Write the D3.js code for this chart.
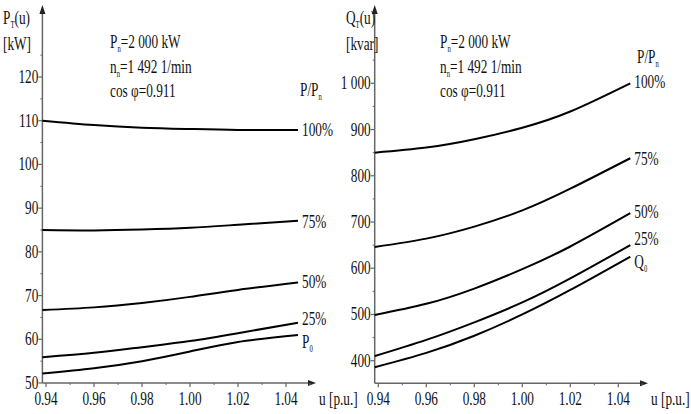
<!DOCTYPE html>
<html>
<head>
<meta charset="utf-8">
<script src="https://cdn.jsdelivr.net/npm/d3@7"></script>
<style>
  body { margin: 0; background: #fff; }
  text { font-family: "Liberation Serif", "Times New Roman", serif; fill: #111; }
</style>
</head>
<body>
<svg id="chart" width="691" height="414"></svg>
<script>
// voltage samples (p.u.)
const uValues = [0.9385, 0.96, 0.98, 1.00, 1.02, 1.045];
const xTicks = [0.94, 0.96, 0.98, 1.00, 1.02, 1.04];

// Active power losses P_T(u) [kW]
const pT100 = [110, 109, 108.4, 108.1, 107.9, 107.9];
const pT75 = [85, 84.9, 85.1, 85.5, 86.2, 87.1];
const pT50 = [66.7, 67.3, 68.3, 69.7, 71.3, 73.0];
const pT25 = [55.9, 56.9, 58.2, 59.6, 61.4, 63.8];
const pT0 = [52.2, 53.4, 55.0, 57.2, 59.4, 61.0];
const pTicks = [50, 60, 70, 80, 90, 100, 110, 120];

// Reactive power Q_T(u) [kvar]
const qT100 = [850, 861, 879, 904, 939, 1000];
const qT75 = [646, 664, 690, 725, 772, 838];
const qT50 = [499, 523, 556, 598, 647, 719];
const qT25 = [410, 445, 483, 526, 578, 650];
const qT0 = [386, 417, 454, 500, 553, 625];
const qTicks = [400, 500, 600, 700, 800, 900, 1000];
const qTickLabels = ["400", "500", "600", "700", "800", "900", "1 000"];

const curveLabels = ["100%", "75%", "50%", "25%"];

const svg = d3.select("#chart");
const SX = 0.7; // text is drawn narrow like the original

// writes text made of [string, isSubscript] parts
function write(g, x, y, parts, anchor, size) {
  size = size || 19;
  let t = g.append("text")
    .attr("transform", `translate(${x},${y}) scale(${SX},1)`)
    .attr("text-anchor", anchor || "start")
    .attr("font-family", "Liberation Serif")
    .style("font-size", size + "px");
  let down = false;
  parts.forEach(p => {
    let s = t.append("tspan").text(p[0]);
    if (p[1] && !down) { s.attr("dy", 4).style("font-size", (size * 0.5) + "px"); down = true; }
    else if (p[1]) { s.style("font-size", (size * 0.5) + "px"); }
    else if (down) { s.attr("dy", -4); down = false; }
  });
  return t;
}

function drawPanel(opt) {
  const g = svg.append("g");
  const x = d3.scaleLinear().domain([0.94, 1.04]).range(opt.xRange);
  const y = d3.scaleLinear().domain(opt.yDomain).range(opt.yRange);
  const x0 = x(uValues[0]);
  const yBase = opt.yBase;

  // axes
  g.append("line").attr("x1", x0).attr("x2", x0).attr("y1", yBase).attr("y2", 12)
    .attr("stroke", "#666").attr("stroke-width", 1.5);
  g.append("path").attr("d", `M${x0 - 3},${14} L${x0},${5} L${x0 + 3},${14} Z`).attr("fill", "#222");
  g.append("line").attr("x1", x0).attr("x2", opt.xEnd - 6).attr("y1", yBase).attr("y2", yBase)
    .attr("stroke", "#666").attr("stroke-width", 1.5);
  g.append("path").attr("d", `M${opt.xEnd - 8},${yBase - 3} L${opt.xEnd},${yBase} L${opt.xEnd - 8},${yBase + 3} Z`).attr("fill", "#222");

  // y ticks, major and minor
  const step = opt.yTicks[1] - opt.yTicks[0];
  opt.yTicks.forEach((v, i) => {
    g.append("line").attr("x1", x0 - 4).attr("x2", x0).attr("y1", y(v)).attr("y2", y(v))
      .attr("stroke", "#666").attr("stroke-width", 1.2);
    write(g, x0 - 4, y(v) + 6, [[opt.yLabels[i]]], "end");
    const m = v + step / 2;
    if (i < opt.yTicks.length - 1 || y(m) > 20)
      g.append("line").attr("x1", x0 - 2).attr("x2", x0).attr("y1", y(m)).attr("y2", y(m))
        .attr("stroke", "#666").attr("stroke-width", 1);
  });

  // x ticks
  xTicks.forEach(v => {
    g.append("line").attr("x1", x(v)).attr("x2", x(v)).attr("y1", yBase).attr("y2", yBase + 4)
      .attr("stroke", "#666").attr("stroke-width", 1.2);
    g.append("line").attr("x1", x(v + 0.01)).attr("x2", x(v + 0.01)).attr("y1", yBase).attr("y2", yBase + 2)
      .attr("stroke", "#666").attr("stroke-width", 1);
    write(g, x(v), yBase + 22, [[v.toFixed(2)]], "middle");
  });
  write(g, opt.xEnd + 3, yBase + 22, [["u [p.u.]"]], "start");

  // curves
  const line = d3.line().x((d, i) => x(uValues[i])).y(d => y(d)).curve(d3.curveNatural);
  opt.series.forEach(s => {
    g.append("path").attr("d", line(s)).attr("fill", "none")
      .attr("stroke", "#000").attr("stroke-width", 2);
  });

  // curve labels
  const xe = x(uValues[uValues.length - 1]);
  opt.labelY.forEach((ly, i) => {
    const parts = i < 4 ? [[curveLabels[i]]] : [[opt.zeroName], ["0", true]];
    write(g, xe + 4, ly, parts, "start");
  });
  write(g, opt.ppX, opt.ppY, [["P/P"], ["n", true]], "start");

  // axis title and machine data
  write(g, opt.titleX, 24, [[opt.titleName], ["T", true], ["(u)"]], "start");
  write(g, opt.titleX, 50, [[opt.unit]], "start");
  write(g, opt.noteX, 48, [["P"], ["n", true], ["=2 000 kW"]], "start");
  write(g, opt.noteX, 73, [["n"], ["n", true], ["=1 492 1/min"]], "start");
  write(g, opt.noteX, 97, [["cos \u03c6=0.911"]], "start");
}

drawPanel({
  xRange: [46, 286], xEnd: 316, yBase: 383,
  yDomain: [50, 120], yRange: [383, 77],
  yTicks: pTicks, yLabels: pTicks.map(String),
  series: [pT100, pT75, pT50, pT25, pT0],
  labelY: [136, 228, 288, 325, 348], zeroName: "P",
  ppX: 300, ppY: 96,
  titleName: "P", unit: "[kW]", titleX: 3, noteX: 110
});

drawPanel({
  xRange: [378.3, 618.3], xEnd: 648, yBase: 383.3,
  yDomain: [400, 1000], yRange: [360.7, 83.3],
  yTicks: qTicks, yLabels: qTickLabels,
  series: [qT100, qT75, qT50, qT25, qT0],
  labelY: [88, 165, 218, 245, 268], zeroName: "Q",
  ppX: 637, ppY: 63,
  titleName: "Q", unit: "[kvar]", titleX: 346, noteX: 440
});
</script>
</body>
</html>
